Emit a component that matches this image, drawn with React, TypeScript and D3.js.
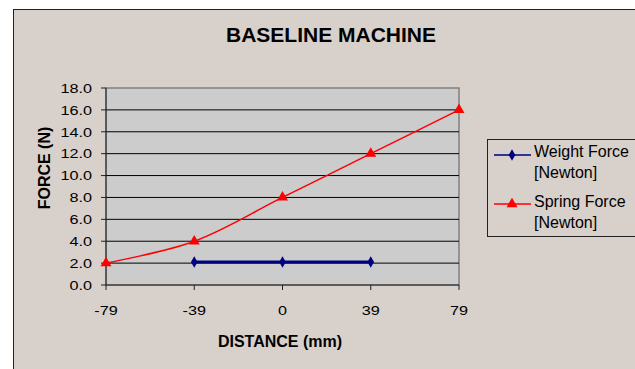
import React from "react";
import * as d3 from "d3";

const distances = ["-79", "-39", "0", "39", "79"];
const weightForce = [null, 2.1, 2.1, 2.1, null];
const springForce = [2, 4, 8, 12, 16];
const yTicks = [0, 2, 4, 6, 8, 10, 12, 14, 16, 18];
const legendNames = [["Weight Force", "[Newton]"], ["Spring Force", "[Newton]"]];

const W = 635;
const H = 369;
const plot = { left: 106, right: 459, top: 88, bottom: 285 };
const font = "Arial, 'Liberation Sans', sans-serif";

// tick text in the source is drawn wider than it is tall
const Stretched = ({ x, y, anchor, children }: any) => (
  <text transform={`translate(${x},${y}) scale(1.2,1)`} textAnchor={anchor} fontSize={13.5}>
    {children}
  </text>
);

export default function App() {
  const x = d3.scalePoint().domain(distances).range([plot.left, plot.right]);
  const y = d3.scaleLinear().domain([0, 18]).range([plot.bottom, plot.top]);

  const springPts = distances.map((d, i) => [x(d), y(springForce[i])] as [number, number]);
  const weightPts = distances
    .map((d, i) => (weightForce[i] == null ? null : ([x(d), y(weightForce[i] as number)] as [number, number])))
    .filter((p) => p !== null) as [number, number][];

  const springLine = d3.line().curve(d3.curveCatmullRom.alpha(0.5))(springPts) || "";
  const weightLine = d3.line()(weightPts) || "";

  const tri = d3.symbol().type(d3.symbolTriangle).size(52)() || "";
  const dia = d3.symbol().type(d3.symbolDiamond).size(38)() || "";

  return (
    <svg width={W} height={H} style={{ position: "absolute", left: 0, top: 0, fontFamily: font }}>
      <rect x={0} y={0} width={W} height={H} fill="#ffffff" />
      <rect x={13.5} y={9.5} width={W} height={H} fill="#D8D0CA" stroke="#222" strokeWidth={1} />
      <text x={331} y={41.5} textAnchor="middle" fontSize={21} fontWeight="bold">
        BASELINE MACHINE
      </text>

      {/* plot area */}
      <rect x={plot.left} y={plot.top} width={plot.right - plot.left} height={plot.bottom - plot.top} fill="#CCCCCC" stroke="#808080" strokeWidth={1.5} />
      {yTicks.slice(1, -1).map((t) => (
        <line key={t} x1={plot.left} x2={plot.right} y1={y(t)} y2={y(t)} stroke="#000" strokeWidth={1} />
      ))}
      <line x1={plot.left} x2={plot.left} y1={plot.top} y2={plot.bottom} stroke="#222" strokeWidth={1} />
      <line x1={plot.left} x2={plot.right} y1={plot.bottom} y2={plot.bottom} stroke="#222" strokeWidth={1} />

      {yTicks.map((t) => (
        <g key={t}>
          <line x1={plot.left - 5} x2={plot.left} y1={y(t)} y2={y(t)} stroke="#222" />
          <Stretched x={92} y={y(t) + 4.8} anchor="end">
            {t.toFixed(1)}
          </Stretched>
        </g>
      ))}
      {distances.map((d) => (
        <g key={d}>
          <line x1={x(d)} x2={x(d)} y1={plot.bottom} y2={plot.bottom + 5} stroke="#222" />
          <Stretched x={x(d)} y={314.5} anchor="middle">
            {d}
          </Stretched>
        </g>
      ))}

      <text x={280} y={346.5} textAnchor="middle" fontSize={16} fontWeight="bold">
        DISTANCE (mm)
      </text>
      <text transform="translate(50,168) rotate(-90)" textAnchor="middle" fontSize={16} fontWeight="bold">
        FORCE (N)
      </text>

      {/* series */}
      <path d={springLine} fill="none" stroke="#FF0000" strokeWidth={1.5} />
      <path d={weightLine} fill="none" stroke="#000080" strokeWidth={3} />
      {springPts.map((p, i) => (
        <path key={i} d={tri} transform={`translate(${p[0]},${p[1]})`} fill="#FF0000" />
      ))}
      {weightPts.map((p, i) => (
        <path key={i} d={dia} transform={`translate(${p[0]},${p[1]})`} fill="#000080" />
      ))}

      {/* legend */}
      <rect x={487.5} y={139.5} width={160} height={97} fill="none" stroke="#222" strokeWidth={1} />
      {legendNames.map((n, i) => {
        const ly = 155 + i * 49;
        const color = i === 0 ? "#000080" : "#FF0000";
        return (
          <g key={i}>
            <line x1={494} x2={531} y1={ly} y2={ly} stroke={color} strokeWidth={1.5} />
            <path d={i === 0 ? dia : tri} transform={`translate(512,${ly})`} fill={color} />
            <text x={534} y={156.7 + i * 50} fontSize={16}>
              {n[0]}
            </text>
            <text x={534} y={177.7 + i * 50} fontSize={16}>
              {n[1]}
            </text>
          </g>
        );
      })}
    </svg>
  );
}
